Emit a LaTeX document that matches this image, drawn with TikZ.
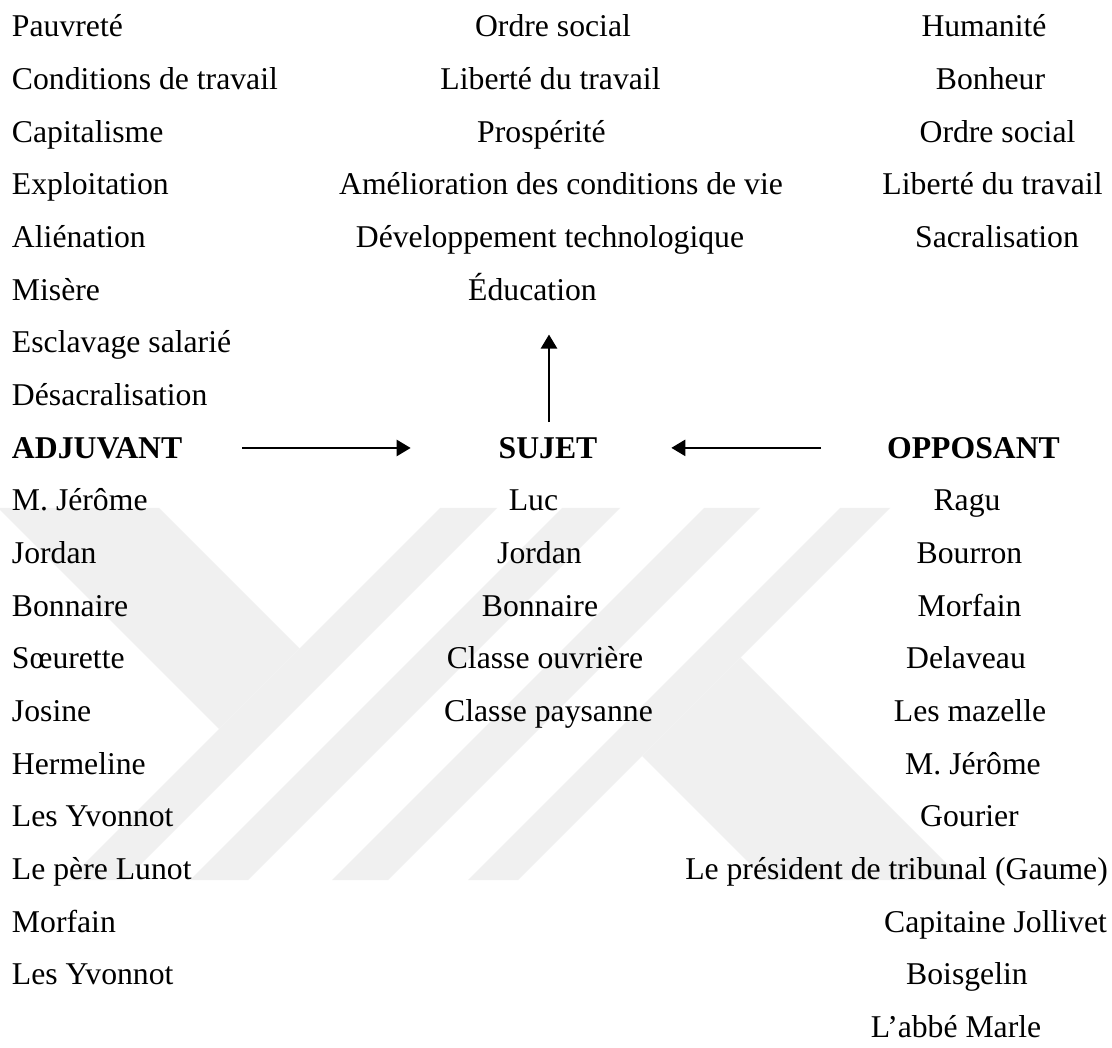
\documentclass[tikz,border=0pt]{standalone}
\usepackage{fontspec}
\setmainfont{Liberation Serif}
\usetikzlibrary{arrows.meta}
\definecolor{wm}{RGB}{240,240,240}
\begin{document}
\begin{tikzpicture}[x=1pt,y=-1pt,
  txt/.style={font=\fontsize{31.7}{38}\selectfont, inner sep=0pt, outer sep=0pt},
  lft/.style={txt, anchor=base west},
  ctr/.style={txt, anchor=base},
  hd/.style={font=\fontsize{31.7}{38}\selectfont\bfseries, inner sep=0pt, outer sep=0pt},
  arr/.style={line width=2.5pt, -{Triangle[length=14pt,width=16pt]}},
  wmark/.style={fill=wm, draw=none}]
\useasboundingbox (0,0) rectangle (1112,1048);
\fill[white] (0,0) rectangle (1112,1048);
% watermark
\fill[wmark] (0,508) -- (159,508) -- (299.5,648.5) -- (219,729) -- (0,510) -- cycle;
\fill[wmark] (440,508) -- (497,508) -- (125,880) -- (68,880) -- cycle;
\fill[wmark] (562,508) -- (620,508) -- (248,880) -- (190,880) -- cycle;
\fill[wmark] (704,508) -- (760,508) -- (388,880) -- (332,880) -- cycle;
\fill[wmark] (840,508) -- (890,508) -- (518,880) -- (468,880) -- cycle;
\fill[wmark] (740.5,657.5) -- (963,880) -- (766,880) -- (642,756) -- cycle;
% left column
\node[lft] (l1) at (12,37) {Pauvreté};
\node[lft] (l2) at (12,89.65) {Conditions de travail};
\node[lft] (l3) at (12,142.3) {Capitalisme};
\node[lft] (l4) at (12,194.95) {Exploitation};
\node[lft] (l5) at (12,247.6) {Aliénation};
\node[lft] (l6) at (12,300.25) {Misère};
\node[lft] (l7) at (12,352.9) {Esclavage salarié};
\node[lft] (l8) at (12,405.55) {Désacralisation};
\node[hd, anchor=base west] (adj) at (12,458.2) {ADJUVANT};
\node[lft] (a1) at (12,510.85) {M. Jérôme};
\node[lft] (a2) at (12,563.5) {Jordan};
\node[lft] (a3) at (12,616.15) {Bonnaire};
\node[lft] (a4) at (12,668.8) {Sœurette};
\node[lft] (a5) at (12,721.45) {Josine};
\node[lft] (a6) at (12,774.1) {Hermeline};
\node[lft] (a7) at (12,826.75) {Les Yvonnot};
\node[lft] (a8) at (12,879.4) {Le père Lunot};
\node[lft] (a9) at (12,932.05) {Morfain};
\node[lft] (a10) at (12,984.7) {Les Yvonnot};
% middle column
\node[ctr] (m1) at (553,37) {Ordre social};
\node[ctr] (m2) at (550.5,89.65) {Liberté du travail};
\node[ctr] (m3) at (541.5,142.3) {Prospérité};
\node[ctr] (m4) at (561,194.95) {Amélioration des conditions de vie};
\node[ctr] (m5) at (550,247.6) {Développement technologique};
\node[ctr] (edu) at (532.5,300.25) {Éducation};
\node[hd, anchor=base] (suj) at (548,458.2) {SUJET};
\node[ctr] (s1) at (533.5,510.85) {Luc};
\node[ctr] (s2) at (539.5,563.5) {Jordan};
\node[ctr] (s3) at (540,616.15) {Bonnaire};
\node[ctr] (s4) at (545,668.8) {Classe ouvrière};
\node[ctr] (s5) at (548.5,721.45) {Classe paysanne};
% right column
\node[ctr] (r1) at (984,37) {Humanité};
\node[ctr] (r2) at (990.5,89.65) {Bonheur};
\node[ctr] (r3) at (997.5,142.3) {Ordre social};
\node[ctr] (r4) at (992.5,194.95) {Liberté du travail};
\node[ctr] (r5) at (997,247.6) {Sacralisation};
\node[hd, anchor=base] (opp) at (973.5,458.2) {OPPOSANT};
\node[ctr] (o1) at (967,510.85) {Ragu};
\node[ctr] (o2) at (969.5,563.5) {Bourron};
\node[ctr] (o3) at (969.5,616.15) {Morfain};
\node[ctr] (o4) at (966,668.8) {Delaveau};
\node[ctr] (o5) at (970,721.45) {Les mazelle};
\node[ctr] (o6) at (973,774.1) {M. Jérôme};
\node[ctr] (o7) at (969.5,826.75) {Gourier};
\node[ctr] (o8) at (896.5,879.4) {Le président de tribunal (Gaume)};
\node[ctr] (o9) at (995.5,932.05) {Capitaine Jollivet};
\node[ctr] (o10) at (967,984.7) {Boisgelin};
\node[ctr] (o11) at (956,1037.35) {L’abbé Marle};
% connectors
\draw[arr, shorten <=60pt, shorten >=88pt] (adj.east) -- (adj.east -| suj.west);
\draw[arr, shorten <=66pt, shorten >=74pt] (opp.west) -- (opp.west -| suj.east);
\draw[arr, shorten <=15pt, shorten >=34pt] ([xshift=1pt]suj.north) -- ([xshift=1pt]suj.north |- edu.south);
\end{tikzpicture}
\end{document}
